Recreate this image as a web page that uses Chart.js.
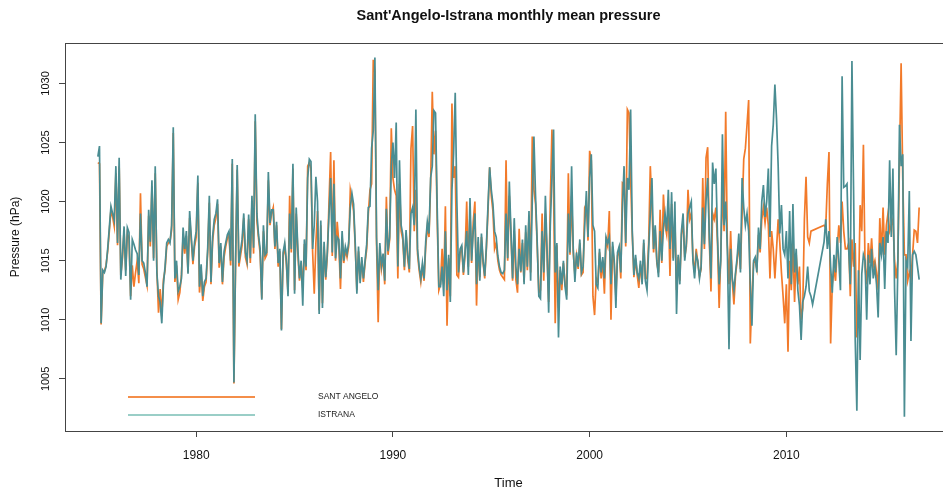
<!DOCTYPE html>
<html>
<head>
<meta charset="utf-8">
<script src="https://cdn.jsdelivr.net/npm/chart.js@4.4.1/dist/chart.umd.min.js"></script>
<style>
  html, body { margin: 0; padding: 0; background: #fff; overflow: hidden; }
  #wrap { width: 943px; height: 491px; overflow: hidden; }
</style>
</head>
<body>
<div id="wrap"><canvas id="myChart" width="960" height="491"></canvas></div>
<script>
// monthly means, Jan 1975 .. Oct 2016 (null = missing month)
const startYear = 1975;

const istrana = [
  1023.8, 1024.7, 1009.7, 1014.2, 1014.0, 1014.5, 1016.0, 1017.8, 1019.6, 1019.0, 1018.4, 1023.0, // 1975
  1016.5, 1023.7, 1013.4, 1015.5, 1017.9, 1013.7, 1017.8, 1017.4, 1011.7, 1016.8, 1016.4, 1015.9, // 1976
  1015.6, 1013.8, 1019.0, 1015.0, 1014.8, 1014.0, 1012.8, 1019.3, 1016.6, 1021.8, 1015.0, 1023.0, // 1977
  1014.0, 1012.0, 1011.5, 1009.7, 1013.0, 1014.5, 1016.5, 1016.8, 1016.5, 1018.0, 1026.3, 1013.5, // 1978
  1015.0, 1012.4, 1012.8, 1013.5, 1017.8, 1016.0, 1017.5, 1013.9, 1019.2, 1017.0, 1015.0, 1016.6, // 1979
  1017.5, 1022.2, 1012.8, 1014.7, 1012.0, 1013.2, 1013.5, 1016.0, 1020.5, 1013.2, 1017.0, 1018.5, // 1980
  1019.0, 1020.2, 1014.8, 1016.5, 1013.2, 1015.8, 1016.5, 1017.2, 1017.5, 1015.0, 1023.6, 1004.7, // 1981
  1015.0, 1023.1, 1014.8, 1015.8, 1016.8, 1019.0, 1015.7, 1015.0, 1018.9, 1015.2, 1020.5, 1016.1, // 1982
  1027.4, 1019.0, 1017.2, 1016.0, 1011.7, 1018.0, 1015.5, 1015.7, 1022.5, 1018.2, 1019.3, 1019.3, // 1983
  1016.2, 1018.3, 1014.8, 1016.0, 1009.1, 1015.7, 1016.5, 1015.0, 1012.0, 1019.0, 1016.0, 1023.2, // 1984
  1012.2, 1019.5, 1016.0, 1013.5, 1015.0, 1011.2, 1016.8, 1014.5, 1022.0, 1023.6, 1023.4, 1016.0, // 1985
  1018.0, 1022.1, 1020.0, 1010.5, 1018.4, 1011.0, 1016.6, 1013.6, 1015.8, 1018.9, 1022.0, 1015.7, // 1986
  1021.5, 1015.2, 1017.0, 1016.8, 1013.5, 1017.5, 1015.0, 1016.2, 1015.6, 1016.5, 1019.5, 1020.7, // 1987
  1019.8, 1016.5, 1012.2, 1016.2, 1013.1, 1015.3, 1013.5, 1015.0, 1016.4, 1019.5, 1019.6, 1024.5, // 1988
  1026.0, 1032.2, 1017.0, 1012.5, 1016.5, 1014.6, 1015.6, 1013.3, 1019.4, 1015.8, 1017.0, 1023.0, // 1989
  1025.0, 1022.0, 1026.7, 1014.5, 1023.5, 1018.0, 1017.2, 1014.5, 1017.6, 1015.5, 1014.3, 1019.0, // 1990
  1019.5, 1018.0, 1027.8, 1016.0, 1014.5, 1013.5, 1014.8, 1013.5, 1016.6, 1018.3, 1017.3, 1022.0, // 1991
  1023.0, 1027.7, 1027.5, 1019.5, 1012.8, 1012.8, 1014.5, 1012.0, 1017.5, 1012.5, 1015.5, 1011.5, // 1992
  1021.0, 1024.0, 1029.2, 1020.0, 1014.0, 1016.0, 1016.3, 1014.0, 1015.8, 1017.5, 1013.8, 1020.3, // 1993
  1015.0, 1017.5, 1019.0, 1013.0, 1017.0, 1013.3, 1017.3, 1015.0, 1013.7, 1016.2, 1019.7, 1022.9, // 1994
  1021.0, 1019.8, 1017.5, 1017.0, 1015.4, 1014.5, 1014.0, 1013.9, 1014.2, 1019.0, 1015.2, 1021.7, // 1995
  1017.5, 1013.5, 1018.6, 1014.5, 1013.0, 1016.0, 1014.1, 1016.8, 1013.0, 1018.0, 1014.5, 1019.2, // 1996
  1013.3, 1020.0, 1025.5, 1020.5, 1016.6, 1012.0, 1011.8, 1017.5, 1014.0, 1020.5, 1016.0, 1010.6, // 1997
  1018.0, 1022.0, 1026.1, 1014.0, 1016.5, 1008.5, 1014.5, 1013.0, 1015.0, 1012.8, 1011.7, 1019.0, // 1998
  1015.7, 1023.0, 1016.0, 1013.2, 1015.7, 1014.5, 1016.8, 1014.0, 1014.5, 1018.0, 1020.9, 1017.0, // 1999
  1022.0, 1024.0, 1018.0, 1017.5, 1013.0, 1012.7, 1016.0, 1014.0, 1015.3, 1013.5, 1017.0, 1016.5, // 2000
  1017.0, 1013.0, 1016.6, 1015.0, 1011.0, 1015.7, 1016.2, 1014.0, 1019.5, 1023.0, 1016.5, 1022.0, // 2001
  1021.0, 1027.8, 1017.5, 1013.8, 1015.5, 1014.0, 1013.5, 1015.0, 1013.0, 1016.8, 1013.3, 1012.5, // 2002
  1016.0, 1019.0, 1022.0, 1016.0, 1018.0, 1015.0, 1013.6, 1017.5, 1015.0, 1017.8, 1019.0, 1017.5, // 2003
  1021.0, 1016.0, 1020.8, 1015.0, 1020.0, 1010.5, 1015.5, 1013.0, 1017.5, 1019.0, 1015.0, 1016.5, // 2004
  1019.0, 1019.5, 1020.0, 1015.0, 1013.5, 1015.5, 1015.0, 1013.5, 1014.5, 1019.5, 1016.4, 1020.1, // 2005
  1022.0, 1017.0, 1013.5, 1023.3, 1021.5, 1022.8, 1017.0, 1013.0, 1015.0, 1025.7, 1018.0, 1020.0, // 2006
  1016.0, 1007.5, 1016.0, 1013.5, 1012.5, 1014.0, 1015.3, 1017.3, 1014.0, 1022.0, 1019.5, 1018.0, // 2007
  1019.0, 1017.5, 1013.0, 1009.5, 1015.0, 1015.3, 1014.0, 1017.8, 1016.0, 1020.0, 1021.4, 1018.7, // 2008
  1020.0, 1022.8, 1017.0, 1024.7, 1026.5, 1029.9, 1027.0, 1023.0, 1017.3, 1019.7, 1016.0, 1015.5, // 2009
  1017.5, 1013.5, 1019.2, 1013.0, 1019.8, 1014.0, 1016.0, 1012.5, 1011.2, 1008.3, 1011.5, 1012.0, // 2010
  1012.8, 1014.5, 1012.4, 1012.0, 1011.3, null, null, null, null, null, null, 1016.6,             // 2011
  1018.5, 1016.0, 1017.5, 1014.5, 1012.3, 1015.5, 1014.0, 1017.0, 1015.0, 1012.5, 1030.6, 1021.2, // 2012
  1021.3, 1021.5, 1016.0, 1013.0, 1031.9, 1021.0, 1008.3, 1002.3, 1014.2, 1006.6, 1013.9, 1015.5, // 2013
  1015.0, 1010.0, 1015.5, 1013.0, 1016.0, 1013.5, 1014.5, 1013.0, 1010.2, 1016.5, 1015.5, 1017.0, // 2014
  1012.6, 1017.5, 1016.5, 1023.5, 1017.0, 1022.8, 1012.6, 1007.0, 1014.5, 1026.5, 1023.0, 1024.0, // 2015
  1001.8, 1015.0, 1014.5, 1020.9, 1008.2, 1015.5, 1015.8, 1015.5, 1014.5, 1013.4                  // 2016
];

const santAngelo = [
  1023.3, 1023.2, 1009.6, 1014.0, 1014.1, 1014.6, 1015.8, 1017.5, 1019.3, 1018.7, 1017.9, 1022.4, // 1975
  1016.3, 1023.0, 1013.8, 1015.2, 1017.5, 1014.2, 1017.3, 1016.9, 1012.0, 1014.6, 1012.8, 1014.0, // 1976
  1015.0, 1013.1, 1020.7, 1014.7, 1014.3, 1013.6, 1012.9, 1018.8, 1016.2, 1021.3, 1015.2, 1022.4, // 1977
  1014.2, 1010.6, 1012.6, 1010.3, 1013.4, 1014.2, 1016.2, 1016.5, 1016.6, 1017.6, 1025.8, 1013.2, // 1978
  1014.6, 1011.7, 1012.3, 1013.8, 1017.2, 1015.6, 1017.1, 1014.0, 1018.6, 1016.7, 1014.7, 1016.2, // 1979
  1017.0, 1021.6, 1012.3, 1014.2, 1011.6, 1012.8, 1013.2, 1015.7, 1019.9, 1013.0, 1016.6, 1018.0, // 1980
  1018.6, 1019.8, 1014.4, 1016.2, 1013.0, 1015.3, 1016.2, 1016.9, 1017.2, 1014.6, 1023.2, 1004.6, // 1981
  1014.6, 1022.7, 1014.5, 1015.4, 1016.3, 1018.6, 1015.3, 1014.7, 1018.5, 1014.8, 1019.9, 1015.6, // 1982
  1026.8, 1018.4, 1016.9, 1015.6, 1011.8, 1017.5, 1015.2, 1015.5, 1021.8, 1018.0, 1019.0, 1019.5, // 1983
  1016.0, 1018.0, 1014.5, 1015.8, 1009.2, 1015.4, 1016.2, 1014.7, 1012.3, 1020.5, 1015.7, 1022.8, // 1984
  1012.5, 1019.0, 1015.6, 1013.3, 1014.7, 1012.7, 1016.4, 1014.2, 1023.0, 1023.3, 1022.8, 1015.8, // 1985
  1012.2, 1016.5, 1019.2, 1010.8, 1018.0, 1011.4, 1016.2, 1013.4, 1015.5, 1019.9, 1024.2, 1015.4, // 1986
  1023.5, 1015.0, 1018.3, 1016.5, 1012.6, 1017.0, 1014.8, 1015.9, 1015.3, 1016.2, 1021.0, 1020.2, // 1987
  1019.2, 1016.2, 1012.5, 1015.8, 1013.4, 1015.0, 1013.2, 1014.8, 1016.0, 1019.0, 1021.0, 1021.5, // 1988
  1032.0, 1031.0, 1016.5, 1009.8, 1016.2, 1014.3, 1015.3, 1013.0, 1020.4, 1015.5, 1016.8, 1026.2, // 1989
  1022.0, 1021.0, 1020.5, 1013.5, 1021.5, 1017.5, 1016.8, 1014.2, 1017.3, 1015.2, 1014.0, 1024.5, // 1990
  1026.4, 1017.5, 1021.0, 1015.6, 1014.2, 1013.2, 1014.5, 1013.3, 1016.2, 1017.9, 1017.0, 1021.5, // 1991
  1029.3, 1024.0, 1026.0, 1018.5, 1012.5, 1013.0, 1016.0, 1013.0, 1019.6, 1009.5, 1015.2, 1012.0, // 1992
  1028.3, 1022.0, 1023.0, 1013.8, 1013.6, 1015.7, 1016.0, 1013.8, 1015.5, 1020.0, 1014.5, 1019.0, // 1993
  1014.8, 1018.3, 1020.0, 1011.2, 1016.6, 1013.6, 1017.0, 1014.8, 1013.5, 1016.0, 1019.2, 1022.9, // 1994
  1020.5, 1019.2, 1016.0, 1016.5, 1015.0, 1014.2, 1013.8, 1013.6, 1013.4, 1023.5, 1015.0, 1020.5, // 1995
  1017.2, 1013.3, 1017.5, 1013.4, 1012.3, 1017.7, 1014.0, 1016.5, 1013.2, 1017.4, 1014.2, 1018.8, // 1996
  1014.0, 1025.5, 1021.0, 1019.8, 1016.3, 1012.3, 1012.5, 1019.0, 1013.3, 1019.0, 1015.6, 1011.5, // 1997
  1020.0, 1026.1, 1021.0, 1009.7, 1016.3, 1011.0, 1014.2, 1012.5, 1014.8, 1013.0, 1012.5, 1022.4, // 1998
  1015.5, 1020.5, 1015.7, 1013.8, 1015.4, 1014.3, 1016.5, 1013.8, 1014.0, 1019.5, 1019.8, 1016.7, // 1999
  1024.3, 1023.5, 1012.0, 1010.4, 1013.5, 1013.2, 1015.7, 1013.5, 1015.0, 1012.2, 1016.7, 1016.2, // 2000
  1019.2, 1010.0, 1016.2, 1014.8, 1012.0, 1015.4, 1016.0, 1013.5, 1021.6, 1021.5, 1016.2, 1027.8, // 2001
  1027.5, 1022.0, 1017.2, 1013.6, 1015.2, 1013.8, 1012.7, 1014.7, 1013.2, 1016.5, 1013.5, 1013.5, // 2002
  1016.5, 1023.0, 1019.5, 1015.7, 1017.6, 1014.8, 1014.0, 1019.3, 1014.8, 1020.6, 1018.0, 1017.2, // 2003
  1019.5, 1013.7, 1019.8, 1015.2, 1018.5, 1012.5, 1015.3, 1013.3, 1017.2, 1018.3, 1015.3, 1016.2, // 2004
  1021.0, 1018.5, 1019.0, 1015.2, 1014.0, 1016.0, 1014.8, 1013.7, 1014.3, 1022.0, 1016.0, 1023.7, // 2005
  1024.6, 1016.7, 1012.4, 1019.0, 1018.5, 1019.5, 1016.5, 1011.0, 1015.5, 1021.0, 1017.5, 1027.6, // 2006
  1016.3, 1013.0, 1017.5, 1013.3, 1011.3, 1013.8, 1015.0, 1016.5, 1014.3, 1019.0, 1023.6, 1024.5, // 2007
  1026.5, 1028.6, 1008.0, 1012.0, 1014.8, 1015.0, 1014.3, 1017.2, 1015.7, 1018.5, 1019.5, 1018.2, // 2008
  1019.5, 1018.0, 1013.5, 1017.5, 1016.0, 1013.5, 1016.0, 1018.5, 1016.5, 1014.0, 1012.0, 1009.7, // 2009
  1013.0, 1007.3, 1015.0, 1012.5, 1016.5, 1011.5, 1015.5, 1013.0, 1014.5, 1010.0, 1011.0, 1018.5, // 2010
  1022.1, 1017.0, 1016.5, 1017.5, null, null, null, null, null, null, null, 1018.0,               // 2011
  1017.8, 1021.5, 1024.2, 1008.0, 1013.0, 1014.3, 1013.3, 1016.0, 1018.0, 1016.5, 1020.0, 1017.5, // 2012
  1016.0, 1016.0, 1016.5, 1012.0, 1016.8, 1014.5, 1016.5, 1008.5, 1012.0, 1019.7, 1017.5, 1024.8, // 2013
  1014.5, 1013.0, 1016.5, 1014.8, 1016.9, 1014.5, 1015.0, 1014.0, 1012.5, 1018.6, 1015.5, 1019.5, // 2014
  1015.5, 1018.0, 1019.0, 1017.5, 1018.0, 1018.5, 1015.0, 1013.5, 1015.0, 1023.4, 1031.7, 1022.0, // 2015
  1015.5, 1015.5, 1013.3, 1014.0, 1013.5, 1015.5, 1017.6, 1017.5, 1016.5, 1019.5                  // 2016
];

const xTicks = [1980, 1990, 2000, 2010];
const yTicks = [1005, 1010, 1015, 1020, 1025, 1030];

const ORANGE = '#F27A2A';
const TEAL = '#4A8D92';
const FONT = "'Liberation Sans', Arial, Helvetica, sans-serif";

function toPoints(arr) {
  return arr.map(function(v, i) { return { x: startYear + i / 12, y: v }; });
}

// box, titles, rotated y labels, legend (R base-graphics look)
const rDecor = {
  id: 'rDecor',
  afterDraw: function(chart) {
    const ctx = chart.ctx;
    const a = chart.chartArea;
    const ys = chart.scales.y;
    const mid = (a.left + a.right) / 2;
    ctx.save();
    ctx.strokeStyle = '#444';
    ctx.lineWidth = 1;
    ctx.strokeRect(a.left + 0.5, a.top + 0.5, a.right - a.left, a.bottom - a.top);

    ctx.fillStyle = '#111';
    ctx.textAlign = 'center';
    ctx.textBaseline = 'middle';
    ctx.font = 'bold 14.5px ' + FONT;
    ctx.fillText("Sant'Angelo-Istrana monthly mean pressure", mid, 16);

    ctx.font = '13px ' + FONT;
    ctx.fillText('Time', mid, 483);

    ctx.font = '12px ' + FONT;
    ctx.save();
    ctx.translate(16, (a.top + a.bottom) / 2);
    ctx.rotate(-Math.PI / 2);
    ctx.fillText('Pressure (hPa)', 0, 0);
    ctx.restore();

    ctx.font = '11px ' + FONT;
    yTicks.forEach(function(v) {
      ctx.save();
      ctx.translate(46, ys.getPixelForValue(v));
      ctx.rotate(-Math.PI / 2);
      ctx.fillText(String(v), 0, 0);
      ctx.restore();
    });

    // legend inside plot
    const items = [
      { label: 'SANT ANGELO', color: 'rgba(242,122,42,0.85)', y: 397 },
      { label: 'ISTRANA', color: 'rgba(120,190,180,0.75)', y: 415 }
    ];
    ctx.font = '8.5px ' + FONT;
    ctx.textAlign = 'left';
    items.forEach(function(it) {
      ctx.strokeStyle = it.color;
      ctx.lineWidth = 2;
      ctx.beginPath();
      ctx.moveTo(128, it.y);
      ctx.lineTo(255, it.y);
      ctx.stroke();
      ctx.fillStyle = '#222';
      ctx.fillText(it.label, 318, it.y);
    });
    ctx.restore();
  }
};

const ctx = document.getElementById('myChart');
window.myChart = new Chart(ctx, {
  type: 'line',
  data: {
    datasets: [
      {
        label: 'SANT ANGELO',
        data: toPoints(santAngelo),
        borderColor: ORANGE,
        borderWidth: 1.7,
        pointRadius: 0,
        spanGaps: true,
        tension: 0,
        order: 2
      },
      {
        label: 'ISTRANA',
        data: toPoints(istrana),
        borderColor: TEAL,
        borderWidth: 1.7,
        pointRadius: 0,
        spanGaps: true,
        tension: 0,
        order: 1
      }
    ]
  },
  options: {
    responsive: false,
    animation: false,
    layout: { padding: { top: 43, right: 8, left: 0, bottom: 0 } },
    plugins: {
      legend: { display: false },
      title: { display: false },
      tooltip: { enabled: false }
    },
    scales: {
      x: {
        type: 'linear',
        min: 1973.33,
        max: 2018.42,
        afterBuildTicks: function(s) { s.ticks = xTicks.map(function(v) { return { value: v }; }); },
        afterFit: function(s) { s.height = 60; },
        border: { display: false },
        grid: { drawOnChartArea: false, drawTicks: true, tickLength: 6, color: '#444' },
        ticks: {
          color: '#111',
          padding: 11,
          maxRotation: 0,
          font: { family: FONT, size: 12 },
          callback: function(v) { return String(v); }
        }
      },
      y: {
        min: 1000.59,
        max: 1033.42,
        afterBuildTicks: function(s) { s.ticks = yTicks.map(function(v) { return { value: v }; }); },
        afterFit: function(s) { s.width = 65; },
        border: { display: false },
        grid: { drawOnChartArea: false, drawTicks: true, tickLength: 6, color: '#444' },
        ticks: { color: 'rgba(0,0,0,0)', font: { family: FONT, size: 11 } }
      }
    }
  },
  plugins: [rDecor]
});
</script>
</body>
</html>
